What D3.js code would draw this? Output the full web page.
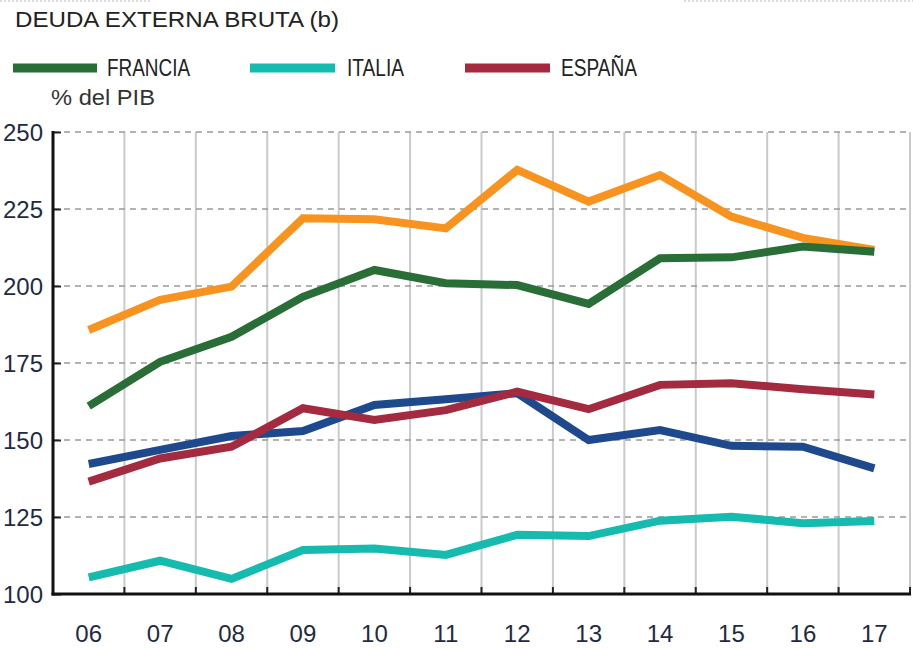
<!DOCTYPE html>
<html><head><meta charset="utf-8">
<script src="https://cdn.jsdelivr.net/npm/d3@7"></script>
<style>
html,body{margin:0;padding:0;background:#fff;overflow:hidden}
text{font-family:"Liberation Sans",Arial,sans-serif}
</style></head>
<body><svg id="c" width="913" height="649"></svg>
<script>
const years = ["06","07","08","09","10","11","12","13","14","15","16","17"];
const yTicks = [100,125,150,175,200,225,250];
const francia = [161.0,175.4,183.5,196.5,205.2,200.9,200.3,194.2,209.0,209.3,212.8,211.1];
const italia  = [105.4,110.8,104.9,114.3,114.8,112.7,119.2,118.8,123.8,125.1,123.0,123.7];
const espana  = [136.5,144.0,147.8,160.3,156.5,159.7,165.7,160.0,167.9,168.4,166.5,164.8];
const alemania = [142.2,146.8,151.3,152.9,161.4,163.2,165.2,150.0,153.2,148.1,147.8,140.8];
const portugal = [185.7,195.5,199.8,222.0,221.7,218.7,237.7,227.4,236.0,222.5,215.6,211.7];
const seriesNames = ["PORTUGAL","FRANCIA","ALEMANIA","ESPAÑA","ITALIA"];
const seriesColors = {PORTUGAL:"#f7931e",FRANCIA:"#2a6e37",ALEMANIA:"#1e4a8d",ESPAÑA:"#a32a3f",ITALIA:"#14bbae"};
const legendNames = ["FRANCIA","ITALIA","ESPAÑA"];

const svg = d3.select("#c");
const L = 53, R = 910, T = 132, B = 594;
const x = d3.scaleBand().domain(years).range([L, R]).padding(0);
const y = d3.scaleLinear().domain([100, 250]).range([B, T]);

// faint dotted strip at very top
svg.append("line").attr("x1",0).attr("x2",150).attr("y1",1).attr("y2",1)
  .attr("stroke","#ddd").attr("stroke-width",2).attr("stroke-dasharray","2,2");
svg.append("line").attr("x1",684).attr("x2",913).attr("y1",1).attr("y2",1)
  .attr("stroke","#ddd").attr("stroke-width",2).attr("stroke-dasharray","2,2");

// title
svg.append("text").attr("x",15).attr("y",27).attr("font-size",22).attr("fill","#222")
  .attr("textLength",324).attr("lengthAdjust","spacingAndGlyphs")
  .text("DEUDA EXTERNA BRUTA (b)");

// legend
const legPos = {FRANCIA:[13,97,107,83], ITALIA:[250,335,347,57], ESPAÑA:[465,550,561,76]};
legendNames.forEach(n => {
  const p = legPos[n];
  svg.append("line").attr("x1",p[0]).attr("x2",p[1]).attr("y1",68).attr("y2",68)
    .attr("stroke",seriesColors[n]).attr("stroke-width",9);
  svg.append("text").attr("x",p[2]).attr("y",76).attr("font-size",24).attr("fill","#222")
    .attr("textLength",p[3]).attr("lengthAdjust","spacingAndGlyphs").text(n);
});
svg.append("text").attr("x",51).attr("y",105).attr("font-size",22).attr("fill","#333")
  .attr("textLength",104).attr("lengthAdjust","spacingAndGlyphs").text("% del PIB");

// vertical grid lines at band boundaries
const bounds = years.map(d => x(d)).slice(1).concat([R]);
svg.append("g").selectAll("line").data(bounds).join("line")
  .attr("x1",d=>d).attr("x2",d=>d).attr("y1",T).attr("y2",B)
  .attr("stroke","#c9cacc").attr("stroke-width",2);

// horizontal dashed grid
svg.append("g").selectAll("line").data(yTicks.filter(v=>v>100)).join("line")
  .attr("x1",L).attr("x2",R).attr("y1",d=>y(d)).attr("y2",d=>y(d))
  .attr("stroke","#9a9a9a").attr("stroke-width",1.5).attr("stroke-dasharray","6,5");

// y axis
const yAxis = d3.axisRight(y).tickValues(yTicks).tickSize(8).tickFormat("");
const gy = svg.append("g").attr("transform",`translate(${L},0)`).call(yAxis);
gy.select(".domain").remove();
gy.selectAll(".tick line").attr("stroke","#222").attr("stroke-width",2);
svg.append("g").selectAll("text").data(yTicks).join("text")
  .attr("x",43).attr("y",d=>y(d)+9).attr("text-anchor","end")
  .attr("font-size",23).attr("fill","#1f2a44")
  .attr("textLength",40).attr("lengthAdjust","spacingAndGlyphs").text(d=>d);

// x axis ticks at band boundaries
svg.append("g").selectAll("line").data(bounds).join("line")
  .attr("x1",d=>d).attr("x2",d=>d).attr("y1",B-7).attr("y2",B)
  .attr("stroke","#222").attr("stroke-width",2);
const xAxis = d3.axisBottom(x).tickSize(0).tickPadding(0);
const gx = svg.append("g").attr("transform",`translate(0,${B})`).call(xAxis);
gx.select(".domain").remove();
gx.selectAll(".tick text").attr("font-size",24).attr("fill","#1f2a44")
  .attr("dy",0).attr("y",48).attr("font-family","'Liberation Sans',Arial,sans-serif");

// axis lines
svg.append("line").attr("x1",L).attr("x2",L).attr("y1",T-1).attr("y2",B+1.5)
  .attr("stroke","#111").attr("stroke-width",3);
svg.append("line").attr("x1",L-1.5).attr("x2",R+1).attr("y1",B).attr("y2",B)
  .attr("stroke","#111").attr("stroke-width",3);

// series
const dataMap = {PORTUGAL:portugal,FRANCIA:francia,ALEMANIA:alemania,ESPAÑA:espana,ITALIA:italia};
const line = d3.line().x((d,i)=>x(years[i]) + x.bandwidth()/2).y(d=>y(d));
const order = ["ITALIA","ALEMANIA","ESPAÑA","PORTUGAL","FRANCIA"];
order.forEach(n => {
  svg.append("path").datum(dataMap[n]).attr("d",line).attr("fill","none")
    .attr("stroke",seriesColors[n]).attr("stroke-width",8).attr("stroke-linejoin","miter")
    .attr("stroke-miterlimit",3);
});
</script></body></html>
